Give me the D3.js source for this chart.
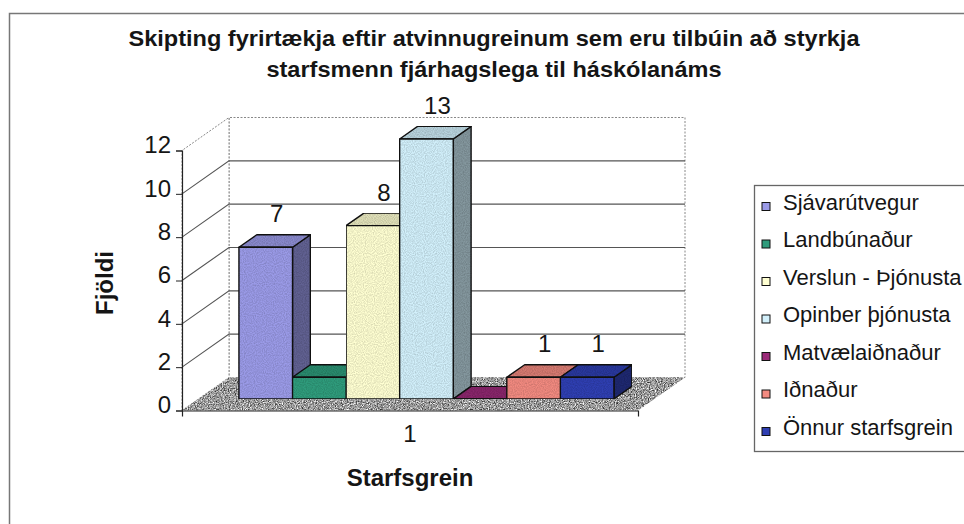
<!DOCTYPE html>
<html>
<head>
<meta charset="utf-8">
<script src="https://cdn.jsdelivr.net/npm/d3@7"></script>
<style>
  html, body { margin: 0; padding: 0; background: #fff; }
  svg { display: block; font-family: "Liberation Sans", Arial, sans-serif; }
</style>
</head>
<body>
<svg id="chart" width="964" height="524"></svg>
<script>
// ---------- data ----------
const titleLines = ["Skipting fyrirtækja eftir atvinnugreinum sem eru tilbúin að styrkja",
                    "starfsmenn fjárhagslega til háskólanáms"];
const categories = ["1"];
const series = ["Sjávarútvegur", "Landbúnaður", "Verslun - Þjónusta", "Opinber þjónusta",
                "Matvælaiðnaður", "Iðnaður", "Önnur starfsgrein"];
const values = [7, 1, 8, 13, 0, 1, 1];
const showLabel = [true, false, true, true, false, true, true];
const colors = ["#9b9be8", "#2f9c7c", "#ffffd2", "#d2f0fb", "#9a2a78", "#f28a80", "#2f3fb2"];
const yTicks = [0, 2, 4, 6, 8, 10, 12];
const yTitle = "Fjöldi";
const xTitle = "Starfsgrein";

// ---------- geometry ----------
const svg = d3.select("#chart");
const X0 = 182, X1 = 638, Y0 = 410.5, YT = 150.5;
const DX = 47, DY = -33;       // depth vector of the 3D box
const D0 = 0.35, D1 = 0.73;    // depth range of bars

const y = d3.scaleLinear().domain([0, 12]).range([Y0, YT]).clamp(true);
const xCat = d3.scaleBand().domain(categories).range([X0, X1]).paddingOuter(0.108).paddingInner(0);
const xSer = d3.scaleBand().domain(series).range([0, xCat.bandwidth()]).padding(0);
const P = (x, v, d) => [x + d * DX, y(v) + d * DY];
const poly = pts => "M" + pts.map(p => p.join(",")).join("L") + "Z";

// defs: noise texture for floor
const defs = svg.append("defs");
const f = defs.append("filter").attr("id", "grain").attr("x", 0).attr("y", 0).attr("width", 1).attr("height", 1)
  .attr("color-interpolation-filters", "sRGB");
f.append("feTurbulence").attr("type", "fractalNoise").attr("baseFrequency", 0.85).attr("numOctaves", 2).attr("seed", 4).attr("result", "n");
f.append("feColorMatrix").attr("in", "n").attr("type", "matrix")
  .attr("values", "1.4 0 0 0 -0.1  1.4 0 0 0 -0.1  1.4 0 0 0 -0.1  0 0 0 0 1").attr("result", "g");
f.append("feComposite").attr("in", "g").attr("in2", "SourceAlpha").attr("operator", "in");

const fb = defs.append("filter").attr("id", "grainLight").attr("x", 0).attr("y", 0).attr("width", 1).attr("height", 1)
  .attr("color-interpolation-filters", "sRGB");
fb.append("feTurbulence").attr("type", "fractalNoise").attr("baseFrequency", 0.9).attr("numOctaves", 1).attr("seed", 9).attr("result", "n");
fb.append("feColorMatrix").attr("in", "n").attr("type", "matrix")
  .attr("values", "0 0 0 0 0  0 0 0 0 0  0 0 0 0 0  0.35 0 0 0 -0.12").attr("result", "a");
fb.append("feComposite").attr("in", "a").attr("in2", "SourceAlpha").attr("operator", "in").attr("result", "na");
const fm = fb.append("feMerge");
fm.append("feMergeNode").attr("in", "SourceGraphic");
fm.append("feMergeNode").attr("in", "na");

// outer frame
svg.append("path").attr("d", "M9.5,524V13.5H964").attr("fill", "none").attr("stroke", "#777").attr("stroke-width", 1.5);

// title
const tg = svg.append("g").attr("font-weight", "bold").attr("font-size", 22.5).attr("fill", "#151515").attr("text-anchor", "middle");
const t1 = tg.append("text").attr("x", 494).attr("y", 46).text(titleLines[0]);
const t2 = tg.append("text").attr("x", 494).attr("y", 77).text(titleLines[1]);
const k = 731 / t1.node().getComputedTextLength();
t1.attr("textLength", 731).attr("lengthAdjust", "spacingAndGlyphs");
t2.attr("textLength", t2.node().getComputedTextLength() * k).attr("lengthAdjust", "spacingAndGlyphs");

// walls
const walls = svg.append("g");
walls.append("path").attr("d", poly([P(X0, 0, 1), P(X1, 0, 1), P(X1, 12, 1), P(X0, 12, 1)]))
  .attr("fill", "#fff").attr("stroke", "#888").attr("stroke-dasharray", "2,1.5").attr("stroke-width", 1);
walls.append("path").attr("d", poly([P(X0, 0, 0), P(X0, 0, 1), P(X0, 12, 1), P(X0, 12, 0)]))
  .attr("fill", "#fff").attr("stroke", "#888").attr("stroke-dasharray", "2,1.5").attr("stroke-width", 1);
walls.selectAll("path.grid").data(yTicks.filter(v => v > 0 && v < 12)).join("path").attr("class", "grid")
  .attr("d", v => "M" + [P(X0, v, 0), P(X0, v, 1), P(X1, v, 1)].map(p => p.join(",")).join("L"))
  .attr("fill", "none").attr("stroke", "#555").attr("stroke-width", 1.1);

// floor
svg.append("path").attr("d", poly([P(X0, 0, 0), P(X1, 0, 0), P(X1, 0, 1), P(X0, 0, 1)]))
  .attr("fill", "#999").attr("filter", "url(#grain)");

// axes
const yAxis = d3.axisLeft(y).tickValues(yTicks).tickSize(6).tickPadding(5).tickFormat(d3.format("d"));
const gy = svg.append("g").attr("transform", `translate(${X0},0)`).call(yAxis);
gy.select(".domain").attr("stroke", "#222").attr("stroke-width", 1.2);
gy.selectAll(".tick line").attr("stroke", "#222");
gy.selectAll(".tick text").attr("font-size", 24).attr("font-family", "'Liberation Sans', Arial, sans-serif")
  .attr("fill", "#151515").attr("dy", "0.1em");

const xAxis = d3.axisBottom(xCat).tickSizeInner(0).tickSizeOuter(6).tickPadding(14);
const gx = svg.append("g").attr("transform", `translate(0,${Y0})`).call(xAxis);
gx.select(".domain").attr("stroke", "#222").attr("stroke-width", 1.2);
gx.selectAll(".tick text").attr("font-size", 24).attr("font-family", "'Liberation Sans', Arial, sans-serif")
  .attr("fill", "#151515");

// bars
const bars = svg.append("g").attr("stroke", "#111").attr("stroke-width", 1.4).attr("stroke-linejoin", "round");
series.forEach((s, i) => {
  const v = values[i];
  const xl = xCat(categories[0]) + xSer(s), xr = xl + xSer.bandwidth();
  const c = d3.color(colors[i]);
  const g = bars.append("g").attr("filter", "url(#grainLight)");
  g.append("path").attr("d", poly([P(xr, 0, D0), P(xr, 0, D1), P(xr, v, D1), P(xr, v, D0)])).attr("fill", c.darker(1.3));
  g.append("path").attr("d", poly([P(xl, v, D0), P(xr, v, D0), P(xr, v, D1), P(xl, v, D1)])).attr("fill", c.darker(0.35));
  g.append("path").attr("d", poly([P(xl, 0, D0), P(xr, 0, D0), P(xr, v, D0), P(xl, v, D0)])).attr("fill", c);
});

// data labels
svg.append("g").selectAll("text").data(series.map((s, i) => ({ s, v: values[i], show: showLabel[i] })).filter(d => d.show))
  .join("text")
  .attr("x", d => xCat(categories[0]) + xSer(d.s) + xSer.bandwidth() / 2 + D0 * DX + 11)
  .attr("y", d => P(0, d.v, D0)[1] - 25)
  .attr("text-anchor", "middle").attr("font-size", 24).attr("fill", "#151515")
  .text(d => d.v);

// axis titles
svg.append("text").attr("transform", "translate(113,283) rotate(-90)").attr("text-anchor", "middle")
  .attr("font-weight", "bold").attr("font-size", 24).attr("fill", "#151515").text(yTitle);
svg.append("text").attr("x", 410).attr("y", 486).attr("text-anchor", "middle")
  .attr("font-weight", "bold").attr("font-size", 24).attr("fill", "#151515").text(xTitle);

// legend
const lg = svg.append("g");
lg.append("rect").attr("x", 754.5).attr("y", 185.5).attr("width", 220).attr("height", 266)
  .attr("fill", "#fff").attr("stroke", "#666").attr("stroke-width", 1.3);
const items = lg.selectAll("g.item").data(series).join("g").attr("class", "item")
  .attr("transform", (d, i) => `translate(0,${209.5 + i * 37.5})`);
items.append("rect").attr("x", 762).attr("y", -7).attr("width", 8).attr("height", 8)
  .attr("fill", (d, i) => colors[i]).attr("stroke", "#111").attr("stroke-width", 1);
items.append("text").attr("x", 783).attr("y", 0).attr("font-size", 22).attr("fill", "#151515").text(d => d);
</script>
</body>
</html>
